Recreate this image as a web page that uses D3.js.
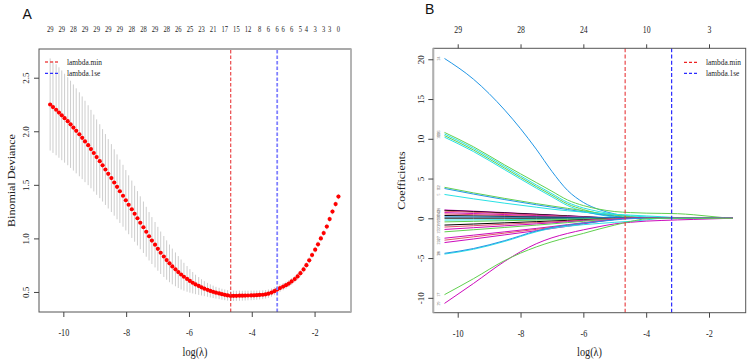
<!DOCTYPE html>
<html>
<head>
<meta charset="utf-8">
<script src="https://cdn.jsdelivr.net/npm/d3@7"></script>
<style>
body { margin: 0; background: #fff; }
svg { display: block; }
</style>
</head>
<body>
<div id="viz"></div>
<script>
// ---- panel A : cross-validated deviance ----
var logLambda = [
  -10.42,-10.33,-10.23,-10.14,-10.05,-9.96,-9.86,-9.77,-9.68,-9.59,
  -9.49,-9.40,-9.31,-9.21,-9.12,-9.03,-8.94,-8.84,-8.75,-8.66,
  -8.57,-8.47,-8.38,-8.29,-8.20,-8.10,-8.01,-7.92,-7.82,-7.73,
  -7.64,-7.55,-7.45,-7.36,-7.27,-7.18,-7.08,-6.99,-6.90,-6.80,
  -6.71,-6.62,-6.53,-6.43,-6.34,-6.25,-6.16,-6.06,-5.97,-5.88,
  -5.79,-5.69,-5.60,-5.51,-5.41,-5.32,-5.23,-5.14,-5.04,-4.95,
  -4.86,-4.77,-4.67,-4.58,-4.49,-4.39,-4.30,-4.21,-4.12,-4.02,
  -3.93,-3.84,-3.75,-3.65,-3.56,-3.47,-3.37,-3.28,-3.19,-3.10,
  -3.00,-2.91,-2.82,-2.73,-2.63,-2.54,-2.45,-2.35,-2.26,-2.17,
  -2.08,-1.98,-1.89,-1.80,-1.71,-1.61,-1.52,-1.43,-1.33,-1.24
];
var cvMean = [
  2.250,2.226,2.201,2.175,2.149,2.122,2.094,2.065,2.035,2.004,
  1.972,1.939,1.905,1.870,1.834,1.797,1.759,1.721,1.682,1.643,
  1.603,1.563,1.522,1.481,1.440,1.398,1.356,1.314,1.272,1.230,
  1.188,1.146,1.104,1.062,1.020,0.980,0.941,0.903,0.866,0.831,
  0.798,0.767,0.738,0.711,0.686,0.663,0.642,0.622,0.603,0.586,
  0.570,0.556,0.543,0.531,0.520,0.510,0.501,0.493,0.486,0.479,
  0.473,0.468,0.463,0.464,0.464,0.465,0.465,0.466,0.467,0.468,
  0.469,0.470,0.472,0.474,0.478,0.484,0.494,0.507,0.522,0.536,
  0.550,0.563,0.578,0.598,0.620,0.645,0.675,0.710,0.750,0.795,
  0.845,0.895,0.945,1.000,1.050,1.110,1.180,1.250,1.320,1.390
];
var cvSe = [
  0.430,0.428,0.425,0.422,0.419,0.415,0.411,0.407,0.402,0.397,
  0.392,0.386,0.380,0.373,0.366,0.359,0.352,0.345,0.338,0.331,
  0.324,0.317,0.310,0.303,0.296,0.289,0.282,0.275,0.268,0.261,
  0.254,0.247,0.240,0.233,0.226,0.219,0.212,0.205,0.198,0.191,
  0.184,0.176,0.167,0.158,0.149,0.140,0.130,0.120,0.110,0.100,
  0.091,0.083,0.076,0.070,0.065,0.061,0.058,0.055,0.053,0.051,
  0.050,0.049,0.048,0.048,0.047,0.047,0.046,0.046,0.045,0.045,
  0.044,0.043,0.042,0.041,0.040,0.039,0.038,0.037,0.036,0.035,
  0.034,0.033,0.032,0.031,0.030,0.030,0.029,0.029,0.028,0.028,
  0.027,0.027,0.027,0.026,0.026,0.026,0.025,0.025,0.025,0.025
];
// number of non-zero coefficients shown on the top axis (subset R kept)
var topIdxA = [0,4,8,12,16,20,24,28,32,36,40,44,48,52,56,60,64,68,72,75,78,80,83,86,88,91,94,96,99];
var topLabA = ['29','29','28','29','29','29','29','28','28','29','28','26','25','23','21','17','15','12','8','6','6','6','6','5','4','3','3','3','0'];
var lambdaMin = -4.67, lambda1se = -3.19;
var xTicks = [-10, -8, -6, -4, -2];
var yTicksA = [0.5, 1.0, 1.5, 2.0, 2.5];

// ---- panel B : coefficient paths ----
var coefKnots = [-10.42,-9.5,-8.5,-7.5,-7.0,-6.5,-6.0,-5.5,-5.0,-4.5,-4.0,-3.5,-3.0,-2.5,-2.0,-1.5,-1.24];
var coefLabels = ['24','26','20','8','11','12','10','5','18','1','2','6','14','7','16','13','23','9','19','21','3','15','27','4','22','30','28','29','17'];
var coefColors = ['#2297E6','#61D04F','#28E2E5','#61D04F','#28E2E5','#61D04F','#2297E6','#28E2E5',
  '#CD0BBC','#000000','#DF536B','#CD0BBC','#DF536B','#000000','#2297E6','#000000','#28E2E5','#61D04F','#000000',
  '#DF536B','#CD0BBC','#61D04F','#CD0BBC','#DF536B','#CD0BBC','#28E2E5','#2297E6','#CD0BBC','#61D04F'];
var coefPaths = [
  [20.1,17.5,13.6,8.7,5.9,3.5,2.0,1.1,0.55,0.2,0.03,0,0,0,0,0,0],
  [10.8,9.0,6.7,4.5,3.4,2.3,1.6,1.15,0.85,0.72,0.65,0.62,0.58,0.45,0.26,0.07,0],
  [10.6,8.8,6.5,4.2,3.1,2.0,1.3,0.85,0.5,0.3,0.18,0.1,0.02,0,0,0,0],
  [10.4,8.6,6.3,4.0,2.9,1.8,1.1,0.6,0.3,0.08,0,0,0,0,0,0,0],
  [10.2,8.4,6.1,3.8,2.7,1.6,0.9,0.45,0.15,0,0,0,0,0,0,0,0],
  [3.9,3.2,2.5,1.85,1.55,1.25,0.95,0.65,0.4,0.2,0.02,0,0,0,0,0,0],
  [3.75,3.05,2.35,1.7,1.4,1.1,0.8,0.5,0.25,0.06,0,0,0,0,0,0,0],
  [3.0,2.45,1.9,1.4,1.15,0.95,0.78,0.62,0.5,0.4,0.3,0.2,0.08,0,0,0,0],
  [1.05,0.9,0.72,0.52,0.42,0.32,0.22,0.12,0.04,0,0,0,0,0,0,0,0],
  [1.0,0.85,0.68,0.5,0.4,0.3,0.2,0.1,0.02,0,0,0,0,0,0,0,0],
  [0.9,0.76,0.6,0.42,0.33,0.24,0.15,0.07,0,0,0,0,0,0,0,0,0],
  [0.72,0.6,0.47,0.34,0.27,0.2,0.13,0.06,0,0,0,0,0,0,0,0,0],
  [0.55,0.46,0.36,0.26,0.2,0.14,0.08,0.02,0,0,0,0,0,0,0,0,0],
  [0.35,0.3,0.24,0.18,0.14,0.1,0.06,0.02,0,0,0,0,0,0,0,0,0],
  [0.18,0.17,0.16,0.15,0.14,0.13,0.12,0.11,0.1,0.09,0.08,0.07,0.06,0.04,0.02,0.005,0],
  [0.02,0.02,0.02,0.01,0.01,0.01,0,0,0,0,0,0,0,0,0,0,0],
  [-0.22,-0.2,-0.17,-0.13,-0.11,-0.09,-0.07,-0.05,-0.03,-0.01,0,0,0,0,0,0,0],
  [-0.45,-0.38,-0.3,-0.22,-0.18,-0.14,-0.1,-0.06,-0.02,0,0,0,0,0,0,0,0],
  [-0.85,-0.72,-0.57,-0.42,-0.34,-0.26,-0.18,-0.1,-0.03,0,0,0,0,0,0,0,0],
  [-1.1,-0.93,-0.74,-0.55,-0.45,-0.35,-0.24,-0.13,-0.04,0,0,0,0,0,0,0,0],
  [-1.4,-1.18,-0.94,-0.7,-0.57,-0.44,-0.3,-0.17,-0.06,0,0,0,0,0,0,0,0],
  [-1.7,-1.44,-1.15,-0.86,-0.7,-0.54,-0.37,-0.2,-0.07,0,0,0,0,0,0,0,0],
  [-2.5,-2.12,-1.7,-1.27,-1.04,-0.8,-0.56,-0.32,-0.12,0,0,0,0,0,0,0,0],
  [-2.75,-2.33,-1.86,-1.39,-1.14,-0.88,-0.61,-0.35,-0.13,0,0,0,0,0,0,0,0],
  [-3.05,-2.6,-2.08,-1.56,-1.28,-1.0,-0.7,-0.4,-0.15,0,0,0,0,0,0,0,0],
  [-4.5,-3.9,-2.9,-1.7,-1.25,-1.0,-0.8,-0.65,-0.5,-0.38,-0.2,0,0,0,0,0,0],
  [-4.4,-3.8,-2.8,-1.6,-1.15,-0.85,-0.6,-0.4,-0.2,-0.05,0,0,0,0,0,0,0],
  [-10.7,-8.2,-5.4,-3.2,-2.45,-1.9,-1.45,-1.05,-0.7,-0.5,-0.35,-0.27,-0.2,-0.14,-0.08,-0.02,0],
  [-9.6,-7.6,-5.3,-3.6,-2.95,-2.4,-1.9,-1.35,-0.85,-0.4,-0.06,0,0,0,0,0,0]
];
var topTicksB = [-10, -8, -6, -4, -2];
var topLabB = ['29', '28', '24', '10', '3'];
var yTicksB = [-10, -5, 0, 5, 10, 15, 20];

var width = 747, height = 362,
    sx = 0.82,              // the figure was squeezed sideways
    serif = "'Liberation Serif', 'DejaVu Serif', serif";

var svg = d3.select('#viz').append('svg')
    .attr('width', width)
    .attr('height', height)
    .style('background', '#fff');

function htext(g, x, y, str, size, anchor) {
    return g.append('text')
        .attr('transform', 'translate(' + x + ',' + y + ') scale(' + sx + ',1)')
        .attr('text-anchor', anchor || 'middle')
        .style('font-family', serif)
        .style('font-size', size + 'px')
        .attr('fill', '#222')
        .text(str);
}
function vtext(g, x, y, str, size) {
    return g.append('text')
        .attr('transform', 'translate(' + x + ',' + y + ') rotate(-90) scale(1,0.85)')
        .attr('text-anchor', 'middle')
        .style('font-family', serif)
        .style('font-size', size + 'px')
        .attr('fill', '#222')
        .text(str);
}
function bottomAxis(g, x, y0) {
    var ax = g.append('g').attr('transform', 'translate(0,' + y0 + ')')
        .call(d3.axisBottom(x).tickValues(xTicks).tickSize(5)
            .tickFormat(function(d){ return String(d); }));
    ax.select('.domain').remove();
    ax.selectAll('line').attr('stroke', '#444');
    ax.selectAll('text').attr('y', null).attr('dy', null)
        .attr('transform', 'translate(0,24) scale(' + sx + ',1)')
        .style('font-family', serif).style('font-size', '10px').attr('fill', '#222');
}
function leftAxis(g, y, x0, ticks, fmt, off) {
    var ax = g.append('g').attr('transform', 'translate(' + x0 + ',0)')
        .call(d3.axisLeft(y).tickValues(ticks).tickSize(5).tickFormat(fmt));
    ax.select('.domain').remove();
    ax.selectAll('line').attr('stroke', '#444');
    ax.selectAll('text').attr('x', null).attr('dy', null)
        .attr('text-anchor', 'middle')
        .attr('transform', 'translate(' + off + ',0) rotate(-90) scale(1,0.85)')
        .style('font-family', serif).style('font-size', '9px').attr('fill', '#222');
}
function vline(g, x, y, v, color, w, dash) {
    g.append('line')
        .attr('x1', x(v)).attr('x2', x(v))
        .attr('y1', y.range()[0]).attr('y2', y.range()[1])
        .attr('stroke', color).attr('stroke-width', w)
        .attr('stroke-dasharray', dash);
}
function legend(g, x, y, color, txt, dash) {
    g.append('line').attr('x1', x).attr('x2', x + 15).attr('y1', y).attr('y2', y)
        .attr('stroke', color).attr('stroke-width', 1.3).attr('stroke-dasharray', dash);
    htext(g, x + 22, y + 2.8, txt, 9, 'start');
}

// ================= Panel A =================
var xA = d3.scaleLinear().domain([-10.775, -0.84]).range([39, 351]);
var yA = d3.scaleLinear().domain([0.313, 2.768]).range([312, 49]);
var gA = svg.append('g');

gA.selectAll('line.se').data(cvMean).enter().append('line')
    .attr('class', 'se')
    .attr('x1', function(d, i){ return xA(logLambda[i]); })
    .attr('x2', function(d, i){ return xA(logLambda[i]); })
    .attr('y1', function(d, i){ return yA(d + cvSe[i]); })
    .attr('y2', function(d, i){ return yA(d - cvSe[i]); })
    .attr('stroke', '#cdcdcd')
    .attr('stroke-width', 1);

gA.selectAll('circle').data(cvMean).enter().append('circle')
    .attr('cx', function(d, i){ return xA(logLambda[i]); })
    .attr('cy', function(d){ return yA(d); })
    .attr('r', 2.1)
    .attr('fill', '#ff0000');

vline(gA, xA, yA, lambdaMin, '#e8383a', 1.1, '3.5,2');
vline(gA, xA, yA, lambda1se, '#8080ff', 1.8, '3.5,2');

gA.append('rect').attr('x', 39).attr('y', 49).attr('width', 312).attr('height', 263)
    .attr('fill', 'none').attr('stroke', '#555').attr('stroke-width', 1);
gA.append('line').attr('x1', 351).attr('x2', 351).attr('y1', 49).attr('y2', 312)
    .attr('stroke', '#b8b8b8').attr('stroke-width', 1.6);

bottomAxis(gA, xA, 312);
leftAxis(gA, yA, 39, yTicksA, d3.format('.1f'), -10.5);

topIdxA.forEach(function(k, j){
    htext(gA, xA(logLambda[k]), 32.3, topLabA[j], 8);
});

legend(gA, 45, 62, '#f05050', 'lambda.min', '3,2');
legend(gA, 45, 73.3, '#2f2fff', 'lambda.1se', '3,2');

htext(gA, 195, 356, 'log(\u03bb)', 12.5);
vtext(gA, 14.5, 180.5, 'Binomial Deviance', 12);

gA.append('text').attr('x', 22.5).attr('y', 18.5)
    .style('font-family', "'Liberation Sans', Arial, sans-serif")
    .style('font-size', '14px').attr('fill', '#111').text('A');

// ================= Panel B =================
var xB = d3.scaleLinear().domain([-10.777, -0.832]).range([433.3, 745.7]);
var yB = d3.scaleLinear().domain([-11.87, 21.38]).range([312.7, 48.3]);
var gB = svg.append('g');

var path = d3.line()
    .x(function(d, i){ return xB(coefKnots[i]); })
    .y(function(d){ return yB(d); })
    .curve(d3.curveMonotoneX);

gB.selectAll('path.coef').data(coefPaths).enter().append('path')
    .attr('class', 'coef')
    .attr('d', path)
    .attr('fill', 'none')
    .attr('stroke', function(d, i){ return coefColors[i]; })
    .attr('stroke-width', 1);

// variable numbers at the left ends
coefPaths.forEach(function(p, i){
    gB.append('text')
        .attr('transform', 'translate(' + 439.5 + ',' + yB(p[0]) + ') rotate(-90)')
        .attr('text-anchor', 'middle')
        .style('font-family', serif).style('font-size', '4px')
        .attr('fill', '#777')
        .text(coefLabels[i]);
});

vline(gB, xB, yB, lambdaMin, '#e8383a', 1.1, '4,2.2');
vline(gB, xB, yB, lambda1se, '#2b2bff', 1.2, '4,2.2');

gB.append('rect').attr('x', 433.3).attr('y', 48.3).attr('width', 312.4).attr('height', 264.4)
    .attr('fill', 'none').attr('stroke', '#555').attr('stroke-width', 1);
gB.append('line').attr('x1', 433.3).attr('x2', 433.3).attr('y1', 48.3).attr('y2', 312.7)
    .attr('stroke', '#b0b0b0').attr('stroke-width', 2);

bottomAxis(gB, xB, 312.7);
leftAxis(gB, yB, 433.3, yTicksB, function(d){ return String(d); }, -9.8);

var topB = gB.append('g').attr('transform', 'translate(0,48.3)')
    .call(d3.axisTop(xB).tickValues(topTicksB).tickSize(4)
        .tickFormat(function(d, i){ return topLabB[i]; }));
topB.select('.domain').remove();
topB.selectAll('line').attr('stroke', '#444');
topB.selectAll('text').attr('y', null).attr('dy', null)
    .attr('transform', 'translate(0,-15) scale(' + sx + ',1)')
    .style('font-family', serif).style('font-size', '9.5px').attr('fill', '#222');

legend(gB, 684, 62.3, '#ee2222', 'lambda.min', '3,2');
legend(gB, 684, 73.3, '#2b2bff', 'lambda.1se', '3,2');

htext(gB, 589.5, 356, 'log(\u03bb)', 12.5);
vtext(gB, 405, 180.5, 'Coefficients', 12);

gB.append('text').attr('x', 425).attr('y', 13.5)
    .style('font-family', "'Liberation Sans', Arial, sans-serif")
    .style('font-size', '14px').attr('fill', '#111').text('B');
</script>
</body>
</html>
